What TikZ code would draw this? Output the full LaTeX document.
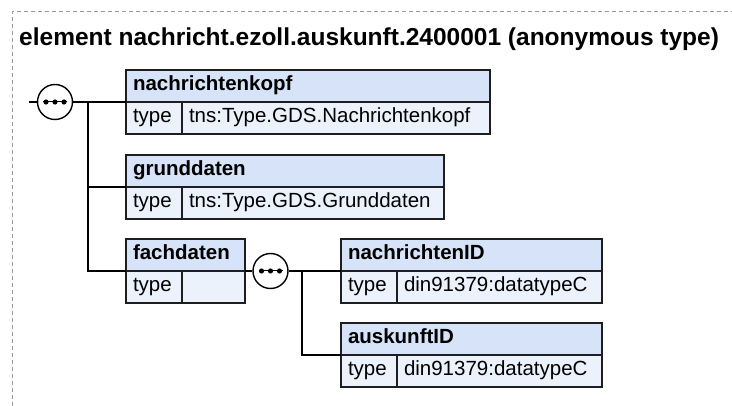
\documentclass[tikz,border=0pt]{standalone}
\usepackage{fontspec}
\setmainfont{Liberation Sans}
\usetikzlibrary{positioning}
\definecolor{headblue}{HTML}{D6E3F8}
\definecolor{typeblue}{HTML}{EBF2FC}
\definecolor{boxline}{HTML}{1E1E1E}
\definecolor{dashgray}{HTML}{9A9A9A}
\newcommand\headfont{\fontsize{20.5}{24}\selectfont\bfseries}
\newcommand\cellfont{\fontsize{20.5}{24}\selectfont}
\tikzset{
  headbox/.style={draw=boxline, fill=headblue, line width=1.4pt, anchor=north west, outer sep=0pt,
    minimum height=32pt, inner xsep=7pt, inner ysep=0pt, align=left, font=\headfont,
    text height=15pt, text depth=6pt},
  typecell/.style={headbox, fill=typeblue, font=\cellfont, text width=42pt},
  valcell/.style={typecell},
  seq/.style={circle, draw=black, fill=white, line width=1.4pt, minimum size=35pt, inner sep=0pt},
  wire/.style={line width=1.4pt, draw=black}
}

\begin{document}
\begin{tikzpicture}[x=1pt, y=-1pt]
  \useasboundingbox (0,0) rectangle (732,406);
  \draw[dashgray, line width=1pt, dash pattern=on 4pt off 3pt] (12,406) -- (12,12) -- (732,12);
  \node[anchor=base west, inner sep=0pt, font=\fontsize{24.5}{28}\selectfont\bfseries] (title) at (19,46)
    {element nachricht.ezoll.auskunft.2400001 (anonymous type)};

  % sequence at the top level
  \coordinate (start) at (29,102);
  \node[seq] (seqA) at (55,102) {};
  \coordinate (forkA) at (88,102);

  % children
  \node[headbox, text width=350pt] (kopf) at (126,70) {nachrichtenkopf};
  \node[typecell] (kopftype) at (kopf.south west) {type};
  \node[valcell, text width=294pt] (kopfval) at (kopftype.north east) {tns:Type.GDS.Nachrichtenkopf};

  \node[headbox, text width=304pt] (grund) at (126,155) {grunddaten};
  \node[typecell] (grundtype) at (grund.south west) {type};
  \node[valcell, text width=248pt] (grundval) at (grundtype.north east) {tns:Type.GDS.Grunddaten};

  \node[headbox, text width=105pt] (fach) at (126,239) {fachdaten};
  \node[typecell] (fachtype) at (fach.south west) {type};
  \node[valcell, text width=49pt] (fachval) at (fachtype.north east) {};

  % sequence inside fachdaten
  \node[seq] (seqB) at (270.5,271) {};
  \coordinate (forkB) at (302,271);

  \node[headbox, text width=247pt] (nid) at (341,239) {nachrichtenID};
  \node[typecell] (nidtype) at (nid.south west) {type};
  \node[valcell, text width=191pt] (nidval) at (nidtype.north east) {din91379:datatypeC};

  \node[headbox, text width=247pt] (aid) at (341,323) {auskunftID};
  \node[typecell] (aidtype) at (aid.south west) {type};
  \node[valcell, text width=191pt] (aidval) at (aidtype.north east) {din91379:datatypeC};

  % connectors
  \draw[wire] (start) -- (seqA);
  \draw[wire] (seqA) -- (kopf.south west);
  \draw[wire] (forkA) -- (forkA |- fach.south west) -- (fach.south west);
  \draw[wire] (forkA |- grund.south west) -- (grund.south west);
  \draw[wire] (fach.south east) -- (seqB);
  \draw[wire] (seqB) -- (nid.south west);
  \draw[wire] (forkB) -- (forkB |- aid.south west) -- (aid.south west);

  % dots of the sequence symbols
  \foreach \s in {seqA,seqB} {
    \draw[line width=1pt] ([xshift=-12pt]\s.center) -- ([xshift=12pt]\s.center);
    \foreach \dx in {-9,0,9}
      \fill ([xshift=\dx pt]\s.center) circle (2.6pt);
  }
\end{tikzpicture}
\end{document}
